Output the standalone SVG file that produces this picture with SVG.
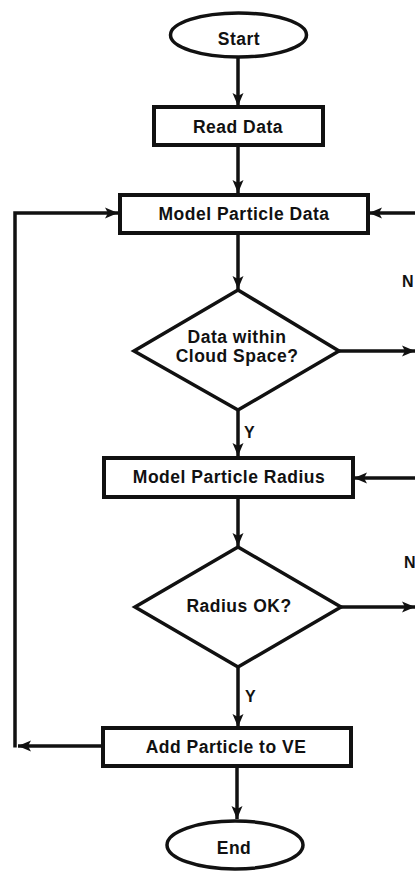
<svg xmlns="http://www.w3.org/2000/svg" width="415" height="871" viewBox="0 0 415 871">
<style>
.box{fill:#fff;stroke:#111;stroke-width:4}
.term{fill:#fff;stroke:#111;stroke-width:3.5}
.dia{fill:#fff;stroke:#111;stroke-width:3.5;stroke-linejoin:miter}
.t{font-family:"Liberation Sans",Arial,sans-serif;font-weight:bold;font-size:17.5px;fill:#111;text-anchor:middle;letter-spacing:0.5px}
.lbl{font-family:"Liberation Sans",Arial,sans-serif;font-weight:bold;font-size:16px;fill:#111}
.c{fill:none;stroke:#111;stroke-width:3.5}
</style>
<defs>
<marker id="ah" markerUnits="userSpaceOnUse" markerWidth="14" markerHeight="12" refX="13" refY="6" orient="auto">
<path d="M0,0.5 L13,6 L0,11.5 L3,6 z" fill="#111"/>
</marker>
</defs>
<rect width="415" height="871" fill="#fff"/>
<g id="connectors">
<line class="c" x1="238" y1="57" x2="238" y2="106" marker-end="url(#ah)"/>
<line class="c" x1="238" y1="146" x2="238" y2="193" marker-end="url(#ah)"/>
<line class="c" x1="238" y1="234" x2="238" y2="289" marker-end="url(#ah)"/>
<line class="c" x1="238" y1="411" x2="238" y2="456" marker-end="url(#ah)"/>
<line class="c" x1="238" y1="499" x2="238" y2="546" marker-end="url(#ah)"/>
<line class="c" x1="238" y1="668" x2="238" y2="727" marker-end="url(#ah)"/>
<line class="c" x1="237" y1="768" x2="237" y2="819" marker-end="url(#ah)"/>
<line class="c" x1="339" y1="351" x2="415" y2="351" marker-end="url(#ah)"/>
<line class="c" x1="341" y1="607" x2="415" y2="607" marker-end="url(#ah)"/>
<line class="c" x1="415" y1="213" x2="369" y2="213" marker-end="url(#ah)"/>
<line class="c" x1="415" y1="478" x2="354" y2="478" marker-end="url(#ah)"/>
<line class="c" x1="101" y1="746" x2="18" y2="746" marker-end="url(#ah)"/>
<polyline class="c" points="15,747.5 15,213 118,213" marker-end="url(#ah)"/>
<text class="lbl" x="402" y="287">N</text>
<text class="lbl" x="244" y="438">Y</text>
<text class="lbl" x="404" y="568">N</text>
<text class="lbl" x="245" y="702">Y</text>
</g>
<g id="start">
<ellipse class="term" cx="238.5" cy="35" rx="68" ry="22"/>
<text class="t" x="239" y="45">Start</text>
</g>
<g id="read-data">
<rect class="box" x="154" y="107" width="169" height="38"/>
<text class="t" x="238" y="133">Read Data</text>
</g>
<g id="model-particle-data">
<rect class="box" x="120" y="195" width="248" height="38"/>
<text class="t" x="244" y="220">Model Particle Data</text>
</g>
<g id="data-within">
<polygon class="dia" points="238,290 339,351 238,410 134,351"/>
<text class="t" x="237" y="343">Data within</text>
<text class="t" x="237" y="362">Cloud Space?</text>
</g>
<g id="model-particle-radius">
<rect class="box" x="104" y="458" width="249" height="39"/>
<text class="t" x="229" y="483">Model Particle Radius</text>
</g>
<g id="radius-ok">
<polygon class="dia" points="238,547 341,607 238,667 135,607"/>
<text class="t" x="239" y="612">Radius OK?</text>
</g>
<g id="add-particle">
<rect class="box" x="103" y="728" width="248" height="38"/>
<text class="t" x="226" y="753">Add Particle to VE</text>
</g>
<g id="end">
<ellipse class="term" cx="235" cy="845" rx="68" ry="24"/>
<text class="t" x="234" y="854">End</text>
</g>
</svg>
